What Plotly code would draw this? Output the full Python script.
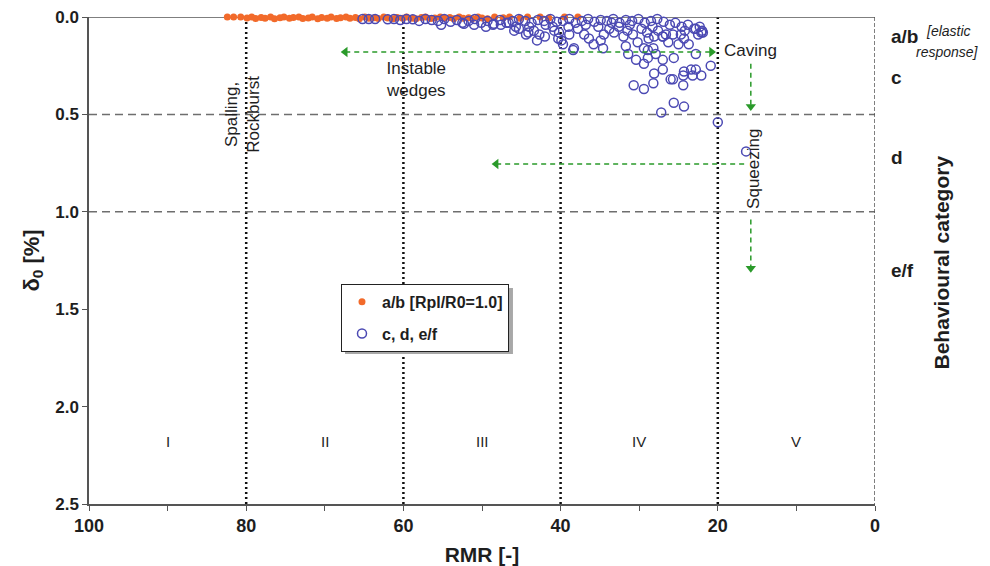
import plotly.graph_objects as go

# ---------------- data ----------------
orange_rmr = [82.4, 81.6, 80.7, 79.9, 79.3, 78.8, 78.1, 77.6, 76.9, 76.4, 75.7, 75.2,
              74.5, 74.0, 73.3, 72.8, 72.1, 71.6, 70.9, 70.4, 69.7, 69.2, 68.5, 68.0,
              67.3, 66.8, 66.1, 65.6, 64.9, 64.4, 63.7, 63.2, 62.5, 62.0, 61.3, 60.8,
              60.1, 59.6, 58.9, 58.4, 57.7, 57.2, 56.5, 56.0, 55.3, 54.8, 54.1, 53.6,
              52.9, 52.4, 51.7, 51.2, 50.5, 50.0, 49.3, 48.4, 47.3, 46.5, 45.2, 44.2,
              42.6, 41.5, 39.5, 37.8]
orange_d = [0.0, 0.0, 0.0, 0.005, 0.0, 0.008, 0.003, 0.006, 0.0, 0.009, 0.004, 0.0,
            0.007, 0.003, 0.0, 0.008, 0.005, 0.0, 0.009, 0.003, 0.006, 0.0, 0.008, 0.004,
            0.0, 0.007, 0.003, 0.009, 0.0, 0.006, 0.004, 0.008, 0.0, 0.005, 0.009, 0.002,
            0.007, 0.0, 0.006, 0.009, 0.003, 0.0, 0.008, 0.005, 0.0, 0.007, 0.003, 0.009,
            0.0, 0.006, 0.004, 0.008, 0.0, 0.005, 0.009, 0.0, 0.004, 0.0, 0.006, 0.0,
            0.0, 0.005, 0.0, 0.0]

blue_rmr = [65.2, 64.4, 63.6, 62.0, 61.2, 60.4, 59.6, 58.8, 58.0, 57.2, 56.4, 55.6,
            54.8, 54.0, 53.2, 52.5, 51.7, 50.9, 50.1, 49.3, 48.5, 47.7, 46.9, 46.1,
            45.3, 44.5, 43.7, 42.9, 42.1, 41.3, 40.5, 39.7, 38.9, 38.1, 37.3, 36.5,
            35.7, 34.9, 34.1, 33.3, 32.5, 31.7, 30.9, 30.1, 29.3, 28.5, 27.7, 26.9,
            26.1, 25.4, 24.6, 23.8, 23.0, 22.3, 22.0,
            55.2, 52.3, 51.0, 49.5, 48.6, 47.6, 46.6, 45.9, 45.7, 45.3, 44.4, 44.0,
            44.1, 43.4, 42.7, 41.9, 41.0, 40.2, 38.9, 37.8, 37.0, 36.4, 35.8, 34.9,
            34.5, 33.8, 33.2, 32.6, 32.0, 31.5, 30.8, 30.2, 29.7, 29.0, 28.8, 28.3,
            27.6, 27.0, 26.6, 26.3, 25.7, 25.0, 24.7, 23.7, 22.5, 22.1, 22.8, 24.2,
            33.5, 35.2, 36.8, 31.2, 39.0, 40.8, 42.0, 43.0, 21.9, 24.3,
            39.9, 39.7, 40.3, 38.4, 38.3, 34.6, 31.7, 31.4, 28.9, 27.9, 28.2, 29.4,
            30.4, 29.4, 28.9, 27.0, 25.6, 22.8, 20.9, 28.1, 27.0, 26.0, 25.7, 24.4,
            24.3, 23.4, 22.8, 22.1, 23.2, 30.7, 29.4, 28.2, 24.4, 25.6, 24.3, 27.2,
            20.0, 16.4, 27.0, 28.1]
blue_d = [0.010, 0.010, 0.010, 0.012, 0.010, 0.015, 0.010, 0.012, 0.020, 0.010, 0.015, 0.020,
          0.010, 0.025, 0.015, 0.030, 0.020, 0.010, 0.030, 0.020, 0.035, 0.015, 0.030, 0.020,
          0.010, 0.020, 0.030, 0.015, 0.020, 0.010, 0.025, 0.020, 0.010, 0.030, 0.020, 0.010,
          0.025, 0.015, 0.020, 0.010, 0.030, 0.015, 0.020, 0.010, 0.030, 0.020, 0.010, 0.025,
          0.040, 0.030, 0.050, 0.040, 0.060, 0.050, 0.070,
          0.040, 0.035, 0.040, 0.050, 0.040, 0.040, 0.030, 0.070, 0.050, 0.060, 0.090, 0.050,
          0.080, 0.070, 0.090, 0.040, 0.050, 0.080, 0.090, 0.060, 0.090, 0.110, 0.140, 0.120,
          0.090, 0.060, 0.080, 0.050, 0.100, 0.070, 0.090, 0.130, 0.060, 0.080, 0.110, 0.050,
          0.070, 0.100, 0.090, 0.130, 0.090, 0.140, 0.090, 0.140, 0.090, 0.080, 0.060, 0.070,
          0.030, 0.050, 0.040, 0.040, 0.050, 0.070, 0.100, 0.120, 0.080, 0.110,
          0.120, 0.140, 0.110, 0.170, 0.160, 0.160, 0.150, 0.190, 0.170, 0.190, 0.160, 0.160,
          0.220, 0.240, 0.210, 0.220, 0.210, 0.190, 0.250, 0.290, 0.270, 0.320, 0.320, 0.300,
          0.280, 0.270, 0.270, 0.300, 0.300, 0.350, 0.370, 0.340, 0.350, 0.440, 0.460, 0.490,
          0.540, 0.690, 0.100, 0.100]

class_lines = [80, 60, 40, 20]
delta_lines = [0.5, 1.0]
class_labels = ["I", "II", "III", "IV", "V"]
class_pos = [90, 70, 50, 30, 10]
x_ticks = [100, 80, 60, 40, 20, 0]
y_ticks = [0.0, 0.5, 1.0, 1.5, 2.0, 2.5]
y_ticktext = ["0.0", "0.5", "1.0", "1.5", "2.0", "2.5"]
cat_labels = ["a/b", "c", "d", "e/f"]
cat_pos = [0.10, 0.31, 0.72, 1.30]

FONT = "Arial, Liberation Sans, sans-serif"
ORANGE = "#F26A2A"
BLUE = "#4B49B3"
GREEN = "#2A9A2A"
TXT = "#1E1E1E"

fig = go.Figure()

fig.add_trace(go.Scatter(
    x=orange_rmr, y=orange_d, mode="markers", name="a/b [Rpl/R0=1.0]",
    legendgroup="ab", cliponaxis=False,
    marker=dict(color=ORANGE, size=7, line=dict(width=0)),
))
fig.add_trace(go.Scatter(
    x=blue_rmr, y=blue_d, mode="markers", name="c, d, e/f",
    legendgroup="cdef", cliponaxis=False,
    marker=dict(symbol="circle-open", color=BLUE, size=9, line=dict(width=1.5, color=BLUE)),
))

# green dashed arrows (lines + arrowheads)
arrows = [
    dict(x=[67.4, 20.8], y=[0.18, 0.18], heads=[("triangle-left", 0), ("triangle-right", 1)]),
    dict(x=[15.8, 15.8], y=[0.24, 0.46], heads=[("triangle-down", 1)]),
    dict(x=[48.2, 16.6], y=[0.755, 0.755], heads=[("triangle-left", 0)]),
    dict(x=[15.8, 15.8], y=[1.04, 1.29], heads=[("triangle-down", 1)]),
]
for a in arrows:
    fig.add_trace(go.Scatter(x=a["x"], y=a["y"], mode="lines", showlegend=False,
                             hoverinfo="skip",
                             line=dict(color=GREEN, width=1.5, dash="5px,4px")))
    for sym, i in a["heads"]:
        fig.add_trace(go.Scatter(x=[a["x"][i]], y=[a["y"][i]], mode="markers",
                                 showlegend=False, hoverinfo="skip",
                                 marker=dict(symbol=sym, size=9, color=GREEN)))

shapes = []
for xv in class_lines:
    shapes.append(dict(type="line", xref="x", yref="y", x0=xv, x1=xv, y0=0, y1=2.5,
                       line=dict(color="#111111", width=2.5, dash="2px,3px"), layer="below"))
for yv in delta_lines:
    shapes.append(dict(type="line", xref="x", yref="y", x0=100, x1=0, y0=yv, y1=yv,
                       line=dict(color="#6E6E6E", width=1.5, dash="8px,5px"), layer="below"))
# top and right frame
shapes.append(dict(type="line", xref="x", yref="y", x0=100, x1=0, y0=0, y1=0,
                   line=dict(color="#555555", width=1.5), layer="below"))
shapes.append(dict(type="line", xref="x", yref="y", x0=0, x1=0, y0=0, y1=2.5,
                   line=dict(color="#555555", width=1.5, dash="4px,2px"), layer="below"))
# legend shadow
shapes.append(dict(type="rect", xref="paper", yref="paper", x0=0.3257, x1=0.5394,
                   y0=0.308, y1=0.4435, fillcolor="#A8A8A8", line=dict(width=0),
                   layer="above"))

annotations = []
for lab, xv in zip(class_labels, class_pos):
    annotations.append(dict(x=xv, y=2.18, xref="x", yref="y", text=lab, showarrow=False,
                            font=dict(family=FONT, size=15, color=TXT)))
for lab, yv in zip(cat_labels, cat_pos):
    annotations.append(dict(x=1.018, y=yv, xref="paper", yref="y", text="<b>%s</b>" % lab,
                            showarrow=False, xanchor="left",
                            font=dict(family=FONT, size=19, color=TXT)))
annotations.append(dict(x=1.062, y=0.07, xref="paper", yref="y", text="<i>[elastic</i>",
                        showarrow=False, xanchor="left",
                        font=dict(family=FONT, size=14, color=TXT)))
annotations.append(dict(x=1.050, y=0.18, xref="paper", yref="y", text="<i>response]</i>",
                        showarrow=False, xanchor="left",
                        font=dict(family=FONT, size=14, color=TXT)))
annotations.append(dict(x=1.084, y=1.26, xref="paper", yref="y", xanchor="center",
                        text="<b>Behavioural category</b>", textangle=-90, showarrow=False,
                        font=dict(family=FONT, size=21, color=TXT)))
annotations.append(dict(x=15.8, y=0.17, xref="x", yref="y", text="Caving", showarrow=False,
                        font=dict(family=FONT, size=17, color=TXT)))
annotations.append(dict(x=58.4, y=0.32, xref="x", yref="y", text="Instable<br>wedges",
                        showarrow=False,
                        font=dict(family=FONT, size=17, color=TXT)))
annotations.append(dict(x=80.5, y=0.5, xref="x", yref="y", text="Spalling,<br>Rockburst",
                        showarrow=False, textangle=-90,
                        font=dict(family=FONT, size=17, color=TXT)))
annotations.append(dict(x=15.4, y=0.78, xref="x", yref="y", text="Squeezing",
                        showarrow=False, textangle=-90,
                        font=dict(family=FONT, size=17, color=TXT)))

fig.update_layout(
    width=983, height=559,
    margin=dict(l=81, r=116, t=9, b=63),
    paper_bgcolor="white", plot_bgcolor="white",
    font=dict(family=FONT, color=TXT),
    shapes=shapes, annotations=annotations,
    showlegend=True,
    legend=dict(x=0.3206, y=0.452, xanchor="left", yanchor="top",
                bgcolor="white", bordercolor="#222222", borderwidth=1,
                tracegroupgap=8,
                font=dict(family=FONT, size=16, color=TXT, weight="bold")),
    xaxis=dict(range=[100, 0], tickvals=x_ticks, showgrid=False, zeroline=False,
               automargin=False, ticklabeloverflow="allow",
               showline=True, linecolor="#555555", linewidth=1.5,
               ticks="outside", ticklen=5, tickcolor="#555555",
               minor=dict(dtick=10, ticks="outside", ticklen=5, tickcolor="#555555"),
               tickfont=dict(family=FONT, size=18, color=TXT, weight="bold"),
               title=dict(text="<b>RMR [-]</b>", standoff=12,
                          font=dict(family=FONT, size=21, color=TXT))),
    yaxis=dict(range=[2.5, 0], tickvals=y_ticks, ticktext=y_ticktext, showgrid=False,
               zeroline=False, showline=True, linecolor="#555555", linewidth=1.5,
               automargin=False, ticklabeloverflow="allow",
               ticks="outside", ticklen=5, tickcolor="#555555",
               tickfont=dict(family=FONT, size=17, color=TXT, weight="bold"),
               title=dict(text="<b>δ<sub>0</sub> [%]</b>", standoff=10,
                          font=dict(family=FONT, size=22, color=TXT))),
)

fig.write_html("out.html")
